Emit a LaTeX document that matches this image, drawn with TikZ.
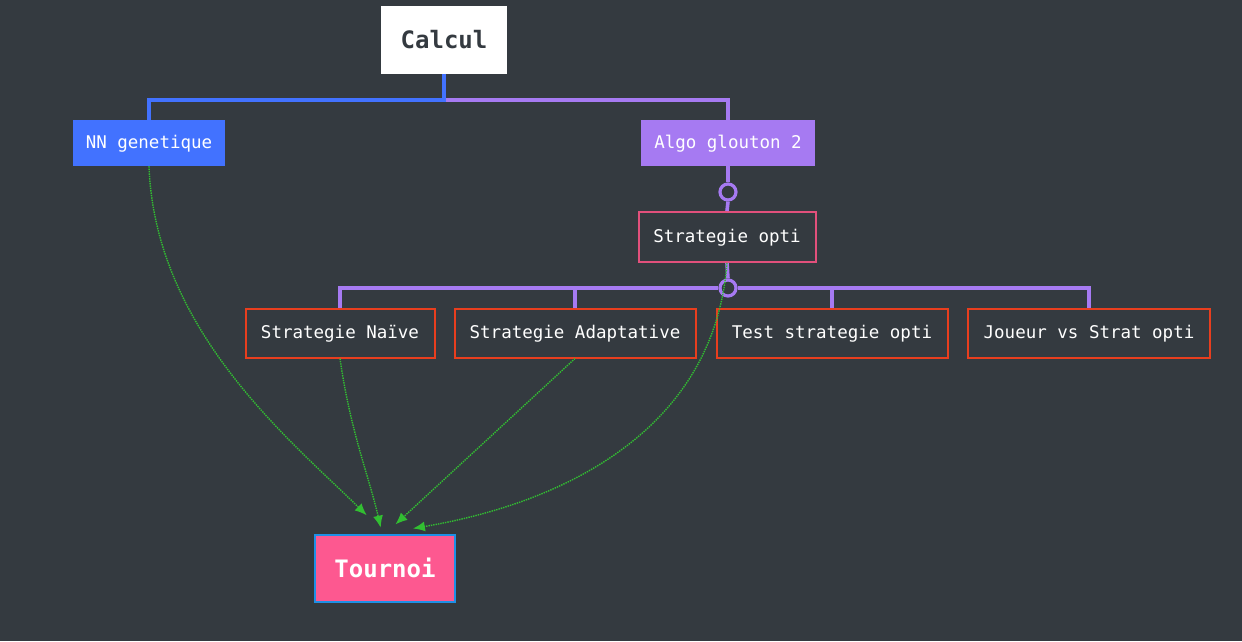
\documentclass[tikz,border=0pt]{standalone}
\usepackage{fontspec}
\setmonofont{DejaVu Sans Mono}
\usetikzlibrary{arrows.meta,calc}
\definecolor{bgdark}{RGB}{52,58,64}
\definecolor{nnblue}{RGB}{66,114,255}
\definecolor{algopurple}{RGB}{166,122,242}
\definecolor{optipink}{RGB}{226,80,124}
\definecolor{stratred}{RGB}{232,62,30}
\definecolor{tourpink}{RGB}{253,88,144}
\definecolor{tourblue}{RGB}{30,144,230}
\definecolor{linkgreen}{RGB}{50,190,50}
\begin{document}
\begin{tikzpicture}[x=1pt,y=-1pt,>={Latex[length=12pt,width=10pt]},
		font=\ttfamily\fontsize{17.5}{20}\selectfont,
		box/.style={inner sep=0pt,minimum height=46pt,text=white,text depth=2pt},
		stratbox/.style={box,draw=stratred,line width=2pt,minimum height=49pt},
		bigbox/.style={inner sep=0pt,font=\ttfamily\bfseries\fontsize{24}{28}\selectfont},
		tree/.style={line width=3.6pt},
		knot/.style={circle,draw=algopurple,line width=3.2pt,fill=bgdark,minimum size=16pt,inner sep=0pt},
		link/.style={->,linkgreen,densely dotted,line width=1.4pt,shorten >=6pt}]
	\fill[bgdark] (0,0) rectangle (1242,641);
	\useasboundingbox (0,0) rectangle (1242,641);
	\node[bigbox,fill=white,text=bgdark,minimum width=126pt,minimum height=68pt] (calcul) at (444,40) {Calcul};
	\node[box,fill=nnblue,minimum width=152pt] (nn) at (149,143) {NN genetique};
	\node[box,fill=algopurple,minimum width=174pt] (algo) at (728,143) {Algo glouton 2};
	\node[knot] (k1) at (728,192) {};
	\node[box,draw=optipink,line width=2pt,minimum width=177pt,minimum height=50pt] (opti) at (727,237) {Strategie opti};
	\node[knot] (k2) at (728,288) {};
	\node[stratbox,minimum width=189pt] (naive) at (340,333) {Strategie Naïve};
	\node[stratbox,minimum width=241pt] (adapt) at (575,333) {Strategie Adaptative};
	\node[stratbox,minimum width=231pt] (test) at (832,333) {Test strategie opti};
	\node[stratbox,minimum width=242pt] (joueur) at (1089,333) {Joueur vs Strat opti};
	\node[bigbox,fill=tourpink,draw=tourblue,line width=2pt,text=white,minimum width=140pt,minimum height=67pt] (tournoi) at (385,568) {Tournoi};
	% arbre
	\coordinate (split) at (444,100);
	\draw[tree,algopurple] (split) -| (algo.north);
	\draw[tree,nnblue] (calcul.south) -- (split) -| (nn.north);
	\draw[tree,algopurple] (algo.south) -- (k1.north);
	\draw[tree,algopurple] (k1.south) -- (opti.north);
	\draw[tree,algopurple] (opti.south) -- (k2.north);
	\draw[tree,algopurple] (k2.west) -| (naive.north);
	\draw[tree,algopurple] (k2.west) -| (adapt.north);
	\draw[tree,algopurple] (k2.east) -| (test.north);
	\draw[tree,algopurple] (k2.east) -| (joueur.north);
	% liens vers le tournoi
	\draw[link] (nn.south) .. controls (155,330) and (290,440) .. ($(tournoi.north)+(-14,-14)$);
	\draw[link] (naive.south) .. controls (350,430) and (370,480) .. ($(tournoi.north)+(-3,0)$);
	\draw[link] (adapt.south) -- ($(tournoi.north)+(6,-5)$);
	\draw[link] (opti.south) .. controls (715,420) and (580,500) .. ($(tournoi.north)+(22,-4)$);
\end{tikzpicture}
\end{document}
